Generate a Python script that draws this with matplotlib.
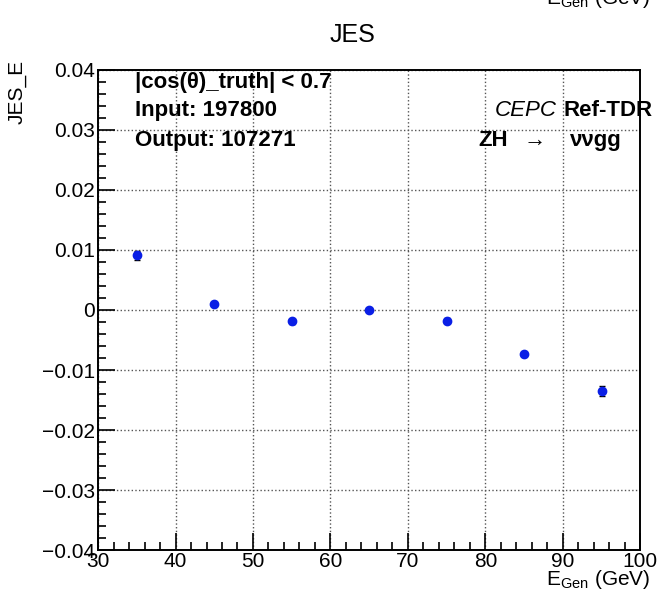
import matplotlib
matplotlib.use("Agg")
import matplotlib.pyplot as plt
from matplotlib.ticker import MultipleLocator

plt.rcParams['font.family'] = ['Liberation Sans', 'DejaVu Sans']
plt.rcParams['mathtext.fontset'] = 'custom'
plt.rcParams['mathtext.rm'] = 'Liberation Sans'

e_gen = [35, 45, 55, 65, 75, 85, 95]
jes = [0.0091, 0.0010, -0.0019, 0.0000, -0.0018, -0.0073, -0.0135]
jes_err = [0.0007, 0.0002, 0.0004, 0.0002, 0.0004, 0.0002, 0.0008]

x_ticks = [30, 40, 50, 60, 70, 80, 90, 100]
y_ticks = [-0.04, -0.03, -0.02, -0.01, 0, 0.01, 0.02, 0.03, 0.04]
y_tick_labels = ["\u22120.04", "\u22120.03", "\u22120.02", "\u22120.01", "0",
                 "0.01", "0.02", "0.03", "0.04"]

fig = plt.figure(figsize=(6.67, 5.91), dpi=100)
ax = fig.add_axes([0.147, 0.069, 0.813, 0.813])

ax.errorbar(e_gen, jes, yerr=jes_err, fmt='o', color='#0a1fe6', markersize=6,
            ecolor='black', elinewidth=1.2, capsize=2, capthick=1.0, zorder=3)

ax.set_xlim(30, 100)
ax.set_ylim(-0.04, 0.04)
ax.set_xticks(x_ticks)
ax.set_yticks(y_ticks)
ax.set_yticklabels(y_tick_labels)
ax.xaxis.set_minor_locator(MultipleLocator(2))
ax.yaxis.set_minor_locator(MultipleLocator(0.002))
ax.tick_params(which='both', direction='in', top=False, right=False,
               labelsize=15, width=1.2, colors='black')
ax.tick_params(which='major', length=12)
ax.tick_params(which='minor', length=6)
ax.tick_params(axis='x', pad=1)
ax.tick_params(axis='y', pad=2)
ax.grid(True, which='major', linestyle=':', color='#555555', linewidth=1.0)
for s in ax.spines.values():
    s.set_linewidth(1.4)

fig.text(0.528, 0.94, "JES", ha='center', va='center', fontsize=18)
fig.text(0.975, 0.0, r"E$_{\mathrm{Gen}}$ (GeV)", ha='right', va='bottom', fontsize=15)
fig.text(0.975, 0.994, r"E$_{\mathrm{Gen}}$ (GeV)", ha='right', va='baseline', fontsize=15)
fig.text(0.012, 0.898, "JES_E", rotation=90, ha='left', va='top', fontsize=15)

fig.text(0.203, 0.861, "|cos(\u03b8)_truth| < 0.7", fontsize=16, fontweight='bold', va='center')
fig.text(0.203, 0.813, "Input: 197800", fontsize=16, fontweight='bold', va='center')
fig.text(0.203, 0.762, "Output: 107271", fontsize=16, fontweight='bold', va='center')

t_ref = fig.text(0.978, 0.813, "Ref-TDR", fontsize=16, fontweight='bold', va='center', ha='right')
fig.canvas.draw()
bb = t_ref.get_window_extent()
x_left = bb.x0 / fig.bbox.width - 0.009
fig.text(x_left, 0.813, "CEPC", fontsize=16, style='italic', va='center', ha='right')

fig.text(0.717, 0.762, "ZH", fontsize=16, fontweight='bold', va='center')
fig.text(0.802, 0.762, "\u2192", fontsize=16, va='center', ha='center')
fig.text(0.855, 0.762, "\u03bd\u03bdgg", fontsize=16, fontweight='bold', va='center')

fig.savefig("out.png", dpi=100)
